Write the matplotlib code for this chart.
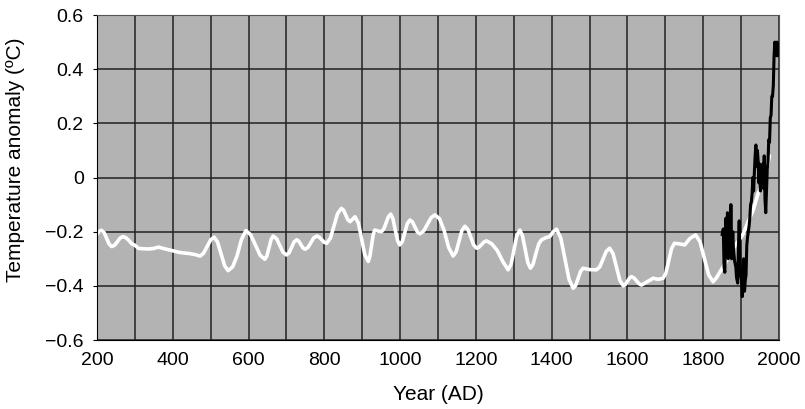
import numpy as np
import matplotlib.pyplot as plt
from matplotlib.ticker import MultipleLocator

plt.rcParams['font.family'] = ['Liberation Sans', 'DejaVu Sans']

# ---------- Data ----------
# smoothed reconstruction (white)
recon_years = [200, 206, 212, 219, 225.5, 232, 239, 246.5, 254, 261.5, 269, 277, 285,
               292, 300, 310, 335, 350, 362, 375, 393, 419, 445, 460, 472, 481, 490.5,
               500, 509, 518, 527.5, 537, 546, 558, 569.5, 581, 593, 605.5, 618, 630.5,
               643, 648.5, 654, 659.5, 665, 674, 682.5, 691, 700, 707, 713.5, 720, 727,
               732.5, 738, 743.5, 749, 757, 764.5, 772, 780, 786.5, 793, 799.5, 806,
               816, 825.5, 835, 845, 851, 856.5, 862, 868, 874.5, 881, 890, 898.5, 907,
               916, 920, 924.5, 929, 933, 942, 951, 957, 963, 969, 975, 981, 987, 993,
               999, 1006, 1012.5, 1019, 1026, 1032.5, 1039, 1045.5, 1052, 1062, 1072,
               1082, 1092, 1104, 1116, 1128, 1140, 1148, 1155.5, 1163, 1171, 1179,
               1186.5, 1194, 1202, 1208.5, 1215, 1221.5, 1228, 1242, 1256.5, 1271,
               1285, 1293, 1300.5, 1308, 1316, 1323, 1330, 1337, 1344, 1351, 1358.5,
               1366, 1373, 1385, 1395, 1404, 1413, 1424, 1435, 1446, 1457, 1463.5,
               1470, 1476.5, 1483, 1500, 1518, 1527, 1535.5, 1544, 1553, 1562, 1571,
               1580, 1589, 1594.5, 1600, 1605.5, 1611, 1617.5, 1624, 1630.5, 1637,
               1652, 1668, 1681, 1694, 1701.5, 1709, 1716.5, 1724, 1737, 1751, 1765,
               1780, 1791.5, 1803, 1814.5, 1826, 1835, 1852, 1865, 1880, 1905, 1918,
               1932, 1945, 1962, 1975]
recon_vals = [-0.21, -0.198, -0.195, -0.204, -0.225, -0.246, -0.255, -0.250, -0.2365,
              -0.223, -0.218, -0.223, -0.234, -0.245, -0.25, -0.262, -0.264, -0.262,
              -0.257, -0.262, -0.268, -0.277, -0.281, -0.285, -0.29, -0.28, -0.255,
              -0.23, -0.22, -0.238, -0.282, -0.326, -0.344, -0.33, -0.29, -0.23,
              -0.196, -0.211, -0.249, -0.287, -0.302, -0.289, -0.259, -0.229, -0.216,
              -0.226, -0.251, -0.276, -0.286, -0.278, -0.258, -0.238, -0.23, -0.235,
              -0.2475, -0.26, -0.265, -0.258, -0.2405, -0.223, -0.216, -0.22, -0.2295,
              -0.239, -0.243, -0.224, -0.1785, -0.133, -0.114, -0.121, -0.1385,
              -0.156, -0.163, -0.154, -0.145, -0.169, -0.2275, -0.286, -0.31, -0.293,
              -0.252, -0.211, -0.194, -0.198, -0.2, -0.19, -0.168, -0.145, -0.135,
              -0.152, -0.192, -0.232, -0.249, -0.236, -0.203, -0.17, -0.157, -0.164,
              -0.1825, -0.201, -0.208, -0.198, -0.173, -0.148, -0.138, -0.152, -0.195,
              -0.258, -0.29, -0.274, -0.235, -0.196, -0.18, -0.192, -0.2205, -0.249,
              -0.261, -0.257, -0.2475, -0.238, -0.234, -0.245, -0.27, -0.31, -0.341,
              -0.32, -0.2675, -0.215, -0.194, -0.215, -0.2645, -0.314, -0.335, -0.32,
              -0.28, -0.245, -0.23, -0.222, -0.218, -0.2, -0.191, -0.223, -0.3, -0.377,
              -0.409, -0.398, -0.372, -0.346, -0.335, -0.34, -0.341, -0.33, -0.301,
              -0.273, -0.261, -0.281, -0.33, -0.38, -0.40, -0.395, -0.383, -0.371,
              -0.366, -0.371, -0.3815, -0.392, -0.397, -0.385, -0.372, -0.376, -0.372,
              -0.353, -0.3075, -0.262, -0.243, -0.245, -0.249, -0.225, -0.212, -0.237,
              -0.2985, -0.36, -0.385, -0.37, -0.33, -0.3, -0.26, -0.21, -0.165, -0.12,
              -0.058, -0.009, 0.08]

# instrumental record (black)
instr_years = [1850, 1853, 1855, 1857, 1860, 1862, 1864, 1866, 1868, 1871, 1873, 1875,
               1878, 1880, 1883, 1886, 1888, 1891, 1893, 1895, 1897, 1899, 1901, 1903,
               1905, 1907, 1909, 1911, 1913, 1915, 1917, 1919, 1921, 1923, 1925, 1927,
               1929, 1931, 1933, 1935, 1937, 1939, 1941, 1943, 1945, 1947, 1949, 1951,
               1953, 1955, 1957, 1959, 1961, 1963, 1965, 1967, 1969, 1971, 1973, 1975,
               1977, 1979, 1981, 1983, 1985, 1987, 1989, 1991, 1993, 1995, 1997]
instr_vals = [-0.21, -0.19, -0.33, -0.35, -0.15, -0.22, -0.13, -0.30, -0.25, -0.29,
              -0.10, -0.30, -0.20, -0.27, -0.31, -0.33, -0.37, -0.39, -0.25, -0.16,
              -0.30, -0.36, -0.38, -0.44, -0.40, -0.30, -0.42, -0.38, -0.36, -0.25,
              -0.22, -0.20, -0.18, -0.15, -0.10, -0.09, -0.06, 0.00, -0.05, 0.02,
              0.08, 0.12, 0.04, 0.10, 0.06, -0.02, 0.05, -0.05, 0.04, -0.02, 0.05,
              -0.04, 0.08, -0.08, -0.13, -0.05, 0.03, 0.06, 0.14, 0.13, 0.22, 0.23,
              0.30, 0.30, 0.34, 0.45, 0.50, 0.47, 0.45, 0.50, 0.45]

ytick_labels = ['\u22120.6', '\u22120.4', '\u22120.2', '0', '0.2', '0.4', '0.6']

# ---------- Plot ----------
fig = plt.figure(figsize=(8.05, 4.09), dpi=100)
ax = fig.add_axes([0.1205, 0.1687, 0.8472, 0.7946])
ax.set_facecolor('#b3b3b4')

ax.plot(recon_years, recon_vals, color='white', lw=2.6,
        solid_joinstyle='round', solid_capstyle='round')
ax.plot(instr_years, instr_vals, color='black', lw=2.2, solid_joinstyle='round')

ax.set_xlim(200, 2000)
ax.set_ylim(-0.6, 0.6)
ax.xaxis.set_major_locator(MultipleLocator(200))
ax.xaxis.set_minor_locator(MultipleLocator(100))
ax.set_yticks(np.arange(-0.6, 0.61, 0.2))
ax.set_yticklabels(ytick_labels)
ax.grid(which='both', color='#222222', lw=1.1)
ax.set_axisbelow(True)

ax.tick_params(axis='y', labelsize=14, length=3, pad=6.5, color='black')
ax.tick_params(axis='x', which='both', labelsize=14, length=0, pad=8.5)

for s in ax.spines.values():
    s.set_color('#555555')
ax.spines['left'].set_color('black')
ax.spines['bottom'].set_color('black')

ax.set_xlabel('Year (AD)', fontsize=15)
ax.set_ylabel('Temperature anomaly (ºC)', fontsize=15)
ax.xaxis.set_label_coords(0.5, -0.138)
ax.yaxis.set_label_coords(-0.105, 0.554)

fig.savefig('out.png', dpi=100)
